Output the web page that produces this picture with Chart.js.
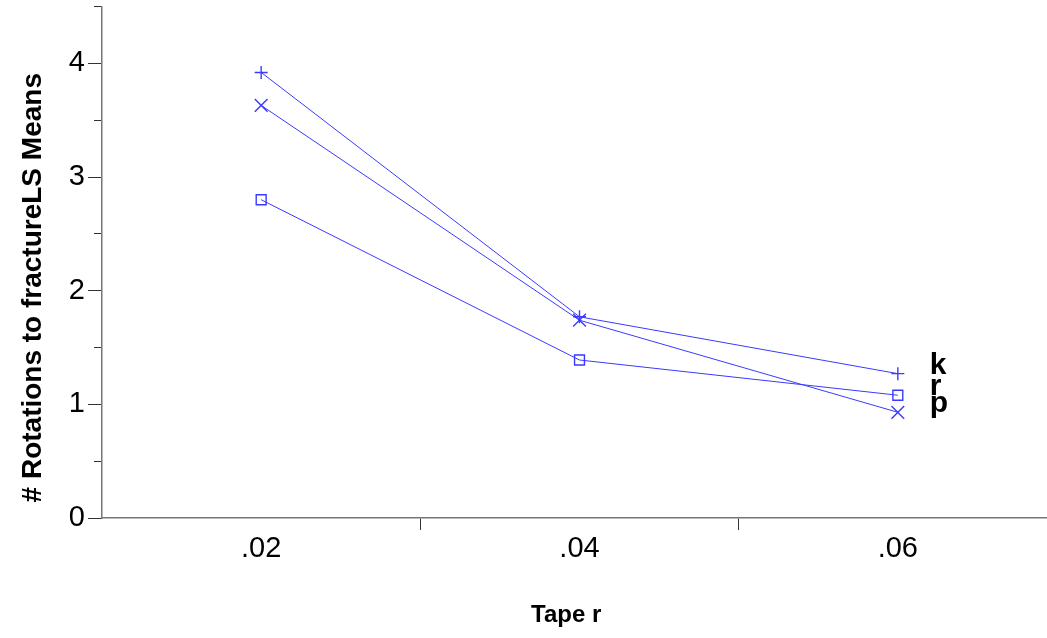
<!DOCTYPE html>
<html>
<head>
<meta charset="utf-8">
<script src="https://cdn.jsdelivr.net/npm/chart.js@4"></script>
<style>
  html, body { margin: 0; padding: 0; background: #fff; overflow: hidden; }
  #wrap { width: 1058px; height: 638px; }
</style>
</head>
<body>
<div id="wrap"><canvas id="myChart" width="1058" height="638"></canvas></div>
<script>
const categories = [".02", ".04", ".06"];
const seriesK = [3.92, 1.77, 1.27];
const seriesR = [2.80, 1.39, 1.08];
const seriesP = [3.63, 1.74, 0.93];
const seriesNames = ["k", "r", "p"];
const yMajorTicks = [0, 1, 2, 3, 4];

const FONT = "'Liberation Sans', Arial, sans-serif";
const BLUE = "#3a3aff";

// series names written beside the last point of each line
const endLabels = {
  id: "endLabels",
  afterDatasetsDraw(chart)
  {
    const ctx = chart.ctx;
    ctx.save();
    ctx.font = "bold 30px " + FONT;
    ctx.fillStyle = "#000";
    ctx.textBaseline = "alphabetic";
    chart.data.datasets.forEach((ds, i) => {
      const pts = chart.getDatasetMeta(i).data;
      const last = pts[pts.length - 1];
      ctx.fillText(seriesNames[i], last.x + 32, last.y);
    });
    ctx.restore();
  },
};

function makeSet(label, data, style, radius)
{
  return {
    label: label,
    data: data,
    borderColor: BLUE,
    borderWidth: 1,
    pointStyle: style,
    pointRadius: radius,
    pointBorderColor: BLUE,
    pointBackgroundColor: "rgba(0,0,0,0)",
    pointBorderWidth: 1.4,
    fill: false,
    tension: 0,
  };
}

function noPad(s)
{
  s.paddingTop = 0;
  s.paddingBottom = 0;
  s.paddingLeft = 0;
  s.paddingRight = 0;
}

new Chart(document.getElementById("myChart"), {
  type: "line",
  data: {
    labels: categories,
    datasets: [
      makeSet(seriesNames[0], seriesK, "cross", 6.5),
      makeSet(seriesNames[1], seriesR, "rect", 7),
      makeSet(seriesNames[2], seriesP, "crossRot", 9),
    ],
  },
  plugins: [endLabels],
  options: {
    responsive: false,
    animation: false,
    devicePixelRatio: 1,
    // canvas is a bit wider than the window: the last band runs past the edge as in the original
    layout: {autoPadding: false, padding: {top: 6.5, right: 1, left: 0, bottom: 0}},
    plugins: {
      legend: {display: false},
      tooltip: {enabled: false},
    },
    scales: {
      x: {
        type: "category",
        offset: true,
        grid: {
          offset: true,
          drawOnChartArea: false,
          tickLength: 12,
          tickColor: (c) => (c.index === 0 ? "rgba(0,0,0,0)" : "#333"),
        },
        border: {color: "#777", width: 1.5},
        ticks: {color: "#000", font: {family: FONT, size: 29}, padding: 2, maxRotation: 0},
        title: {
          display: true,
          text: "Tape r    ",
          color: "#000",
          font: {family: FONT, size: 24, weight: "bold"},
          padding: {top: 0, bottom: 8},
        },
        afterFit: (s) => { s.height = 120; noPad(s); },
      },
      y: {
        position: "left",
        weight: 10,
        min: 0,
        max: 4.5,
        afterBuildTicks: (s) => { s.ticks = yMajorTicks.map(v => ({value: v})); },
        ticks: {color: "#000", font: {family: FONT, size: 29}, padding: 3},
        grid: {drawOnChartArea: false, tickLength: 14, tickColor: "#333"},
        border: {color: "#777", width: 1.5},
        title: {
          display: true,
          align: "start",
          text: "  # Rotations to fractureLS Means",
          color: "#000",
          font: {family: FONT, size: 28, weight: "bold"},
          padding: {top: 16, bottom: 0},
        },
        afterFit: (s) => { s.width = 102; noPad(s); },
      },
      yMinor: {
        position: "left",
        weight: 0,
        min: 0,
        max: 4.5,
        ticks: {stepSize: 0.5, display: false},
        grid: {drawOnChartArea: false, tickLength: 8, tickColor: "#333"},
        border: {display: false},
        afterFit: (s) => { s.width = 0; noPad(s); },
      },
    },
  },
});
</script>
</body>
</html>
